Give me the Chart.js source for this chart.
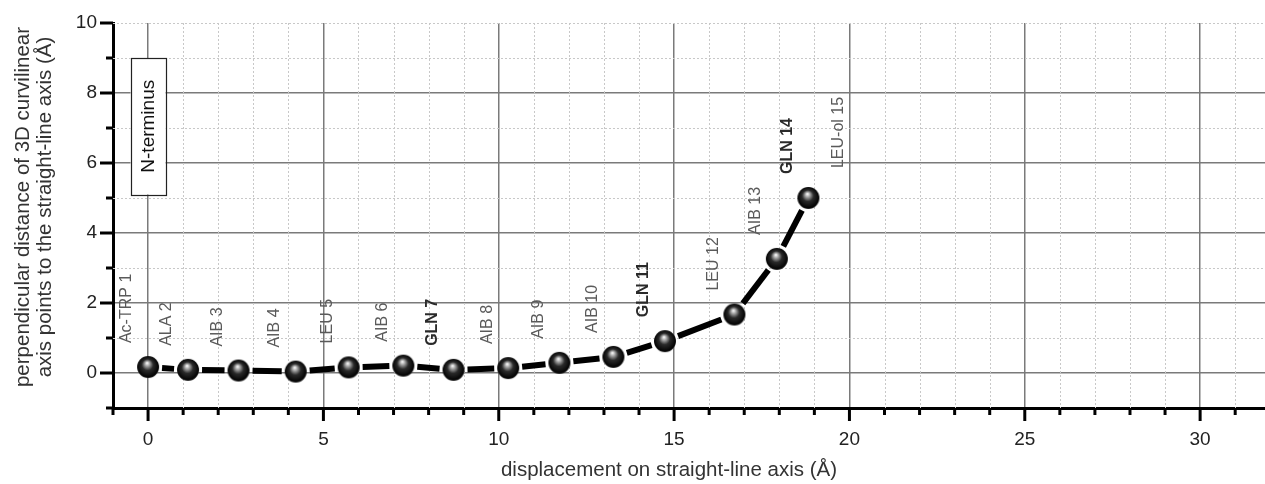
<!DOCTYPE html>
<html>
<head>
<meta charset="utf-8">
<script src="https://cdn.jsdelivr.net/npm/chart.js@4.4.0/dist/chart.umd.min.js"></script>
<style>
  html, body { margin: 0; padding: 0; background: #fff; }
  #wrap { width: 1265px; height: 484px; }
</style>
</head>
<body>
<div id="wrap"><canvas id="grafico"></canvas></div>
<script>
// Dados
const residuos = ["Ac-TRP 1", "ALA 2", "AIB 3", "AIB 4", "LEU 5", "AIB 6", "GLN 7", "AIB 8",
  "AIB 9", "AIB 10", "GLN 11", "LEU 12", "AIB 13", "GLN 14", "LEU-ol 15"];
const deslocamento = [0, 1.14, 2.58, 4.21, 5.72, 7.28, 8.71, 10.27, 11.73, 13.27, 14.74, 16.72, 17.93, 18.83];
const distancia = [0.17, 0.09, 0.07, 0.04, 0.16, 0.21, 0.09, 0.14, 0.29, 0.46, 0.91, 1.67, 3.26, 5.0];
// o último resíduo só tem rótulo, sem ponto
const ultimoRotulo = { x: 20.3, y: 5.17 };
const ticksX = [0, 5, 10, 15, 20, 25, 30];
const ticksY = [0, 2, 4, 6, 8, 10];

const FONTE = "'Liberation Sans', Arial, sans-serif";

// Esfera "3D" usada como marcador
function criarEsfera() {
  const c = document.createElement("canvas");
  c.width = 24;
  c.height = 24;
  const g = c.getContext("2d");
  const grad = g.createRadialGradient(11, 8, 0.5, 12, 12, 12);
  grad.addColorStop(0, "#f2f2f2");
  grad.addColorStop(0.18, "#a0a0a0");
  grad.addColorStop(0.45, "#2a2a2a");
  grad.addColorStop(0.85, "#050505");
  grad.addColorStop(1, "#3a3a3a");
  g.fillStyle = grad;
  g.beginPath();
  g.arc(12, 12, 11, 0, Math.PI * 2);
  g.fill();
  return c;
}

function linha(ctx, x1, y1, x2, y2) {
  ctx.beginPath();
  ctx.moveTo(x1, y1);
  ctx.lineTo(x2, y2);
  ctx.stroke();
}

function textoVertical(ctx, texto, x, y) {
  ctx.save();
  ctx.translate(x, y);
  ctx.rotate(-Math.PI / 2);
  ctx.fillText(texto, 0, 0);
  ctx.restore();
}

const decoracao = {
  id: "decoracao",
  beforeDatasetsDraw(chart) {
    const { ctx, chartArea: a, scales: { x, y } } = chart;
    // grade secundária pontilhada
    ctx.save();
    ctx.strokeStyle = "#c8c8c8";
    ctx.lineWidth = 1;
    ctx.setLineDash([2, 2]);
    for (let v = 0; v <= 31; v++) {
      if (ticksX.includes(v)) continue;
      const px = Math.round(x.getPixelForValue(v)) + 0.5;
      linha(ctx, px, a.top, px, a.bottom);
    }
    for (let v = 1; v <= 10; v += 2) {
      const py = Math.round(y.getPixelForValue(v)) + 0.5;
      linha(ctx, a.left, py, a.right, py);
    }
    const topo = Math.round(y.getPixelForValue(10)) + 0.5;
    linha(ctx, a.left, topo, a.right, topo);
    ctx.restore();

    // segmentos entre as esferas, com um pequeno espaço
    const pts = chart.getDatasetMeta(0).data;
    ctx.save();
    ctx.strokeStyle = "#000";
    ctx.lineWidth = 6;
    for (let i = 0; i < pts.length - 1; i++) {
      const p = pts[i], q = pts[i + 1];
      const dx = q.x - p.x, dy = q.y - p.y;
      const d = Math.hypot(dx, dy);
      const r = 14;
      if (d <= 2 * r) continue;
      const ux = dx / d, uy = dy / d;
      linha(ctx, p.x + ux * r, p.y + uy * r, q.x - ux * r, q.y - uy * r);
    }
    ctx.restore();
  },
  afterDraw(chart) {
    const { ctx, chartArea: a, scales: { x, y } } = chart;
    ctx.save();
    // marcas dos eixos
    ctx.strokeStyle = "#000";
    ctx.lineWidth = 3;
    for (let v = -1; v <= 31; v++) {
      const px = x.getPixelForValue(v);
      const len = ticksX.includes(v) ? 13 : 7;
      linha(ctx, px, a.bottom, px, a.bottom + len);
    }
    for (let v = -1; v <= 10; v++) {
      const py = y.getPixelForValue(v);
      const len = ticksY.includes(v) ? 13 : 7;
      linha(ctx, a.left, py, a.left - len, py);
    }

    // rótulos dos resíduos
    const pts = chart.getDatasetMeta(0).data;
    ctx.textAlign = "left";
    ctx.textBaseline = "middle";
    residuos.forEach((nome, i) => {
      const px = i < pts.length ? pts[i].x : x.getPixelForValue(ultimoRotulo.x);
      const py = i < pts.length ? pts[i].y : y.getPixelForValue(ultimoRotulo.y);
      const negrito = nome.startsWith("GLN");
      ctx.font = (negrito ? "bold " : "") + "16px " + FONTE;
      ctx.fillStyle = negrito ? "#2a2a2a" : "#5a5a5a";
      textoVertical(ctx, nome, px - 21, py - 24);
    });

    // caixa N-terminus
    const bx1 = x.getPixelForValue(-0.5), bx2 = x.getPixelForValue(0.5);
    const by1 = y.getPixelForValue(9), by2 = y.getPixelForValue(5.1);
    ctx.fillStyle = "#fff";
    ctx.fillRect(bx1, by1, bx2 - bx1, by2 - by1);
    ctx.strokeStyle = "#222";
    ctx.lineWidth = 1.2;
    ctx.strokeRect(Math.round(bx1) + 0.5, Math.round(by1) + 0.5, Math.round(bx2 - bx1), Math.round(by2 - by1));
    ctx.fillStyle = "#111";
    ctx.font = "19px " + FONTE;
    ctx.textAlign = "center";
    textoVertical(ctx, "N-terminus", (bx1 + bx2) / 2 + 1, (by1 + by2) / 2);

    // títulos dos eixos
    ctx.fillStyle = "#333";
    ctx.font = "20.5px " + FONTE;
    ctx.fillText("displacement on straight-line axis (Å)", 669, 470);
    textoVertical(ctx, "perpendicular distance of 3D curvilinear", 23, 207);
    textoVertical(ctx, "axis points to the straight-line axis (Å)", 45, 207);
    ctx.restore();
  }
};

function configurarGrafico() {
  const pontos = deslocamento.map((v, i) => ({ x: v, y: distancia[i] }));
  new Chart(document.getElementById("grafico").getContext("2d"), {
    type: "scatter",
    data: {
      datasets: [
        {
          data: pontos,
          showLine: false,
          pointStyle: criarEsfera(),
          pointRadius: 11,
        },
      ],
    },
    options: {
      responsive: true,
      maintainAspectRatio: false,
      animation: false,
      layout: { autoPadding: false, padding: { top: 23, right: 0, left: 0, bottom: 0 } },
      plugins: { legend: { display: false }, tooltip: { enabled: false } },
      scales: {
        x: {
          type: "linear",
          min: -1,
          max: 31.85,
          afterFit: (s) => {
            s.height = 76;
            s.paddingLeft = 0;
            s.paddingRight = 0;
          },
          border: { color: "#000", width: 3 },
          grid: {
            color: (c) => (ticksX.includes(c.tick.value) ? "#7a7a7a" : "rgba(0,0,0,0)"),
            lineWidth: 1.5,
            drawTicks: false,
            tickLength: 0,
          },
          ticks: {
            stepSize: 1,
            autoSkip: false,
            includeBounds: false,
            maxRotation: 0,
            padding: 20,
            color: "#222",
            font: { size: 19, family: FONTE },
            callback: (v) => (ticksX.includes(v) ? String(v) : ""),
          },
        },
        y: {
          min: -1,
          max: 10,
          afterFit: (s) => {
            s.width = 113;
            s.paddingTop = 0;
            s.paddingBottom = 0;
          },
          border: { color: "#000", width: 3 },
          grid: {
            color: (c) => (ticksY.includes(c.tick.value) && c.tick.value < 10 ? "#7a7a7a" : "rgba(0,0,0,0)"),
            lineWidth: 1.5,
            drawTicks: false,
            tickLength: 0,
          },
          ticks: {
            stepSize: 1,
            autoSkip: false,
            padding: 16,
            color: "#222",
            font: { size: 19, family: FONTE },
            callback: (v) => (ticksY.includes(v) ? String(v) : ""),
          },
        },
      },
    },
    plugins: [decoracao],
  });
}

document.addEventListener("DOMContentLoaded", configurarGrafico);
</script>
</body>
</html>
